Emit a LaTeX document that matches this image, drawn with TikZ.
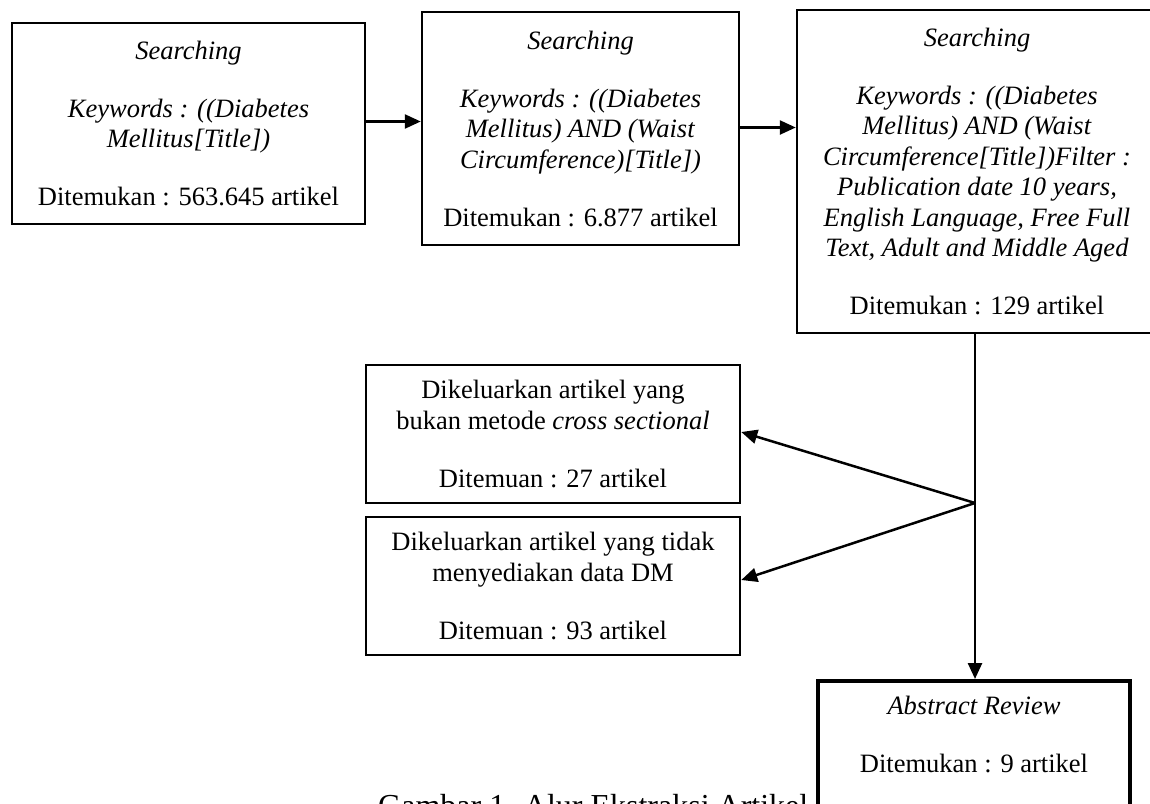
\documentclass[tikz,border=0pt]{standalone}
\usepackage{fontspec}
\setmainfont{Liberation Serif}
\usetikzlibrary{arrows.meta}
\tikzset{
  box/.style={draw=black, line width=2.5pt, fill=white, inner sep=0pt, align=center,
    font=\fontsize{26.5}{30.5}\selectfont},
  thickbox/.style={box, line width=4pt},
  arr/.style={line width=2.5pt, -{Triangle[length=16pt,width=14pt]}},
  caption/.style={inner sep=0pt, anchor=base west, font=\fontsize{32}{36}\selectfont}
}
\begin{document}
\begin{tikzpicture}[x=1pt,y=-1pt]
\useasboundingbox (0,0) rectangle (1150,803);
\clip (0,0) rectangle (1150,803);
\fill[white] (0,0) rectangle (1150,803);

\node[caption] (cap) at (378,816) {Gambar 1. Alur Ekstraksi Artikel};

\node[box, minimum width=353pt, minimum height=201pt] (b1) at (188.5,123.5)
  {\textit{Searching}\\[27.5pt]\textit{Keywords : ((Diabetes}\\\textit{Mellitus[Title])}\\[27.5pt]Ditemukan : 563.645 artikel};

\node[box, minimum width=317pt, minimum height=233pt] (b2) at (580.5,128.5)
  {\textit{Searching}\\[27.5pt]\textit{Keywords : ((Diabetes}\\\textit{Mellitus) AND (Waist}\\\textit{Circumference)[Title])}\\[27.5pt]Ditemukan : 6.877 artikel};

\node[box, minimum width=360pt, minimum height=323pt] (b3) at (977,171.5)
  {\textit{Searching}\\[27.5pt]\textit{Keywords : ((Diabetes}\\\textit{Mellitus) AND (Waist}\\\textit{Circumference[Title])Filter :}\\\textit{Publication date 10 years,}\\\textit{English Language, Free Full}\\\textit{Text, Adult and Middle Aged}\\[27.5pt]Ditemukan : 129 artikel};

\node[box, minimum width=374pt, minimum height=138pt] (ea) at (553,434)
  {Dikeluarkan artikel yang\\bukan metode \textit{cross sectional}\\[27.5pt]Ditemuan : 27 artikel};

\node[box, minimum width=374pt, minimum height=138pt] (eb) at (553,586)
  {Dikeluarkan artikel yang tidak\\menyediakan data DM\\[27.5pt]Ditemuan : 93 artikel};

\node[thickbox, minimum width=312pt, minimum height=174pt] (ar) at (974,768)
  {\textit{Abstract Review}\\[27.5pt]Ditemukan : 9 artikel\\[27.5pt]\strut};

\coordinate (j) at (975,503);

\draw[arr] ([yshift=2pt]b1.east) -- ([yshift=2pt]b1.east -| b2.west);
\draw[arr] ([yshift=1pt]b2.east) -- ([yshift=1pt]b2.east -| b3.west);
\draw[arr] (b3.south -| j) -- (j |- ar.north);
\draw[arr] (j) -- ([yshift=2pt]ea.east);
\draw[arr] (j) -- ([yshift=6pt]eb.east);
\end{tikzpicture}
\end{document}
